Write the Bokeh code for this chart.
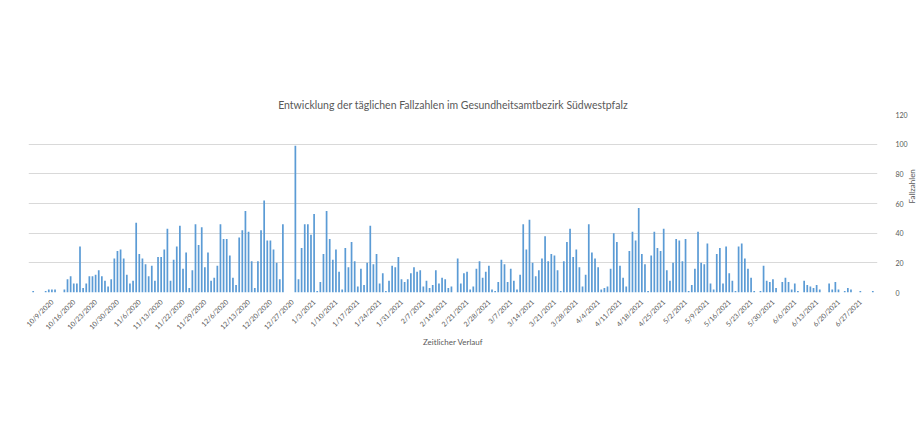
from math import pi
from bokeh.plotting import figure
from bokeh.models import Range1d, FixedTicker
from bokeh.embed import file_html
from bokeh.resources import INLINE

# daily case numbers (one bar per reported day)
cases = [
    0, 1, 0, 0, 0, 1, 2, 2, 2, 0, 0, 2, 9, 11, 6, 6, 31, 3, 6, 11, 11, 12, 15, 11, 8, 4, 9, 23, 28, 29,
    23, 12, 6, 8, 47, 26, 23, 19, 11, 18, 8, 24, 24, 29, 43,
    8, 22, 31, 45, 16, 27, 3, 15, 46, 32, 44, 17, 27, 8, 10, 18, 46, 36, 36, 25, 10, 5, 37, 42, 55,
    41, 21, 3, 21, 42, 62, 35, 35, 29, 20, 9, 46, 0, 0, 0, 99, 9, 30, 46, 46,
    39, 53, 1, 7, 26, 55, 36, 22, 29, 14, 2, 30, 17, 34, 21, 4, 16, 5, 20, 45, 19, 26, 6, 13, 1,
    8, 18, 17, 24, 9, 7, 9, 13, 17, 14, 15, 4, 8, 3, 5, 15, 6, 10, 9, 3,
    4, 0, 23, 6, 13, 14, 2, 4, 16, 21, 10, 14, 18, 2, 1, 7, 22, 19, 7, 16, 8, 2, 12, 46, 29,
    49, 20, 11, 15, 23, 38, 21, 26, 25, 15, 1, 21, 34, 43, 24, 29, 17, 4, 12, 46,
    27, 23, 17, 2, 3, 4, 16, 40, 34, 18, 10, 4, 28, 41, 35, 57, 26, 19, 1, 25, 41, 30, 28, 43, 15,
    8, 20, 36, 35, 21, 36, 1, 5, 16, 41, 20, 19, 33, 6, 2, 26, 30, 6, 31, 13,
    8, 1, 31, 33, 23, 16, 10, 1, 0, 1, 18, 8, 7, 9, 3, 0, 7, 10, 7, 2, 6, 1, 0, 8, 5,
    4, 3, 5, 2, 0, 0, 6, 2, 7, 2, 0, 1, 3, 2, 0, 0, 1, 0, 0, 0, 1, 0,
]

tick_labels = [
    "10/9/2020", "10/16/2020", "10/23/2020", "10/30/2020", "11/6/2020", "11/13/2020",
    "11/22/2020", "11/29/2020", "12/6/2020", "12/13/2020", "12/20/2020", "12/27/2020",
    "1/3/2021", "1/10/2021", "1/17/2021", "1/24/2021", "1/31/2021", "2/7/2021",
    "2/14/2021", "2/21/2021", "2/28/2021", "3/7/2021", "3/14/2021", "3/21/2021",
    "3/28/2021", "4/4/2021", "4/11/2021", "4/18/2021", "4/25/2021", "5/2/2021",
    "5/9/2021", "5/16/2021", "5/23/2021", "5/30/2021", "6/6/2021", "6/13/2021",
    "6/20/2021", "6/27/2021",
]
first_label_index = 7
label_step = 7
y_ticks = [0, 20, 40, 60, 80, 100, 120]

title_text = "Entwicklung der täglichen Fallzahlen im Gesundheitsamtbezirk Südwestpfalz"
x_title = "Zeitlicher Verlauf"
y_title = "Fallzahlen"

GRAY = "#595959"
FONT = "Lato"

n = len(cases)
xs = list(range(n))

p = figure(
    frame_width=849, frame_height=178,
    x_range=Range1d(-0.5, n - 0.5), y_range=Range1d(0, 120),
    y_axis_location="right",
    output_backend="svg", toolbar_location=None,
    min_border_left=28, min_border_right=28, min_border_top=114, min_border_bottom=125,
    title=title_text,
)
p.outline_line_color = None
p.background_fill_color = "white"

p.vbar(x=xs, top=cases, width=0.55, bottom=0, color="#5b9bd5", line_color=None)

p.title.align = "center"
p.title.text_font = FONT
p.title.text_font_size = "10.5px"
p.title.text_font_style = "normal"
p.title.text_color = GRAY
p.title.standoff = 7

ticks = [first_label_index + label_step * i for i in range(len(tick_labels))]
p.xaxis.ticker = FixedTicker(ticks=ticks)
p.xaxis.major_label_overrides = {t: lab for t, lab in zip(ticks, tick_labels)}
p.xaxis.major_label_orientation = pi / 4
p.xaxis.major_label_text_font = FONT
p.xaxis.major_label_text_font_size = "7px"
p.xaxis.major_label_text_color = GRAY
p.xaxis.major_label_standoff = 2
p.xaxis.axis_line_color = None
p.xaxis.major_tick_line_color = None
p.xaxis.minor_tick_line_color = None
p.xaxis.axis_label = x_title
p.xaxis.axis_label_text_font = FONT
p.xaxis.axis_label_text_font_size = "8px"
p.xaxis.axis_label_text_font_style = "normal"
p.xaxis.axis_label_text_color = GRAY
p.xaxis.axis_label_standoff = 0

p.yaxis.ticker = FixedTicker(ticks=y_ticks)
p.yaxis.major_label_text_font = FONT
p.yaxis.major_label_text_font_size = "7px"
p.yaxis.major_label_text_color = GRAY
p.yaxis.major_label_standoff = 12
p.yaxis.axis_line_color = None
p.yaxis.major_tick_line_color = None
p.yaxis.minor_tick_line_color = None
p.yaxis.axis_label = y_title
p.yaxis.axis_label_text_font = FONT
p.yaxis.axis_label_text_font_size = "8px"
p.yaxis.axis_label_text_font_style = "normal"
p.yaxis.axis_label_text_color = GRAY
p.yaxis.axis_label_standoff = 1
try:
    p.yaxis.axis_label_orientation = pi / 2
except Exception:
    pass

p.xgrid.grid_line_color = None
p.ygrid.ticker = FixedTicker(ticks=y_ticks)
p.ygrid.grid_line_color = "#d9d9d9"
p.ygrid.grid_line_width = 1

open("out.html", "w").write(file_html(p, INLINE))
